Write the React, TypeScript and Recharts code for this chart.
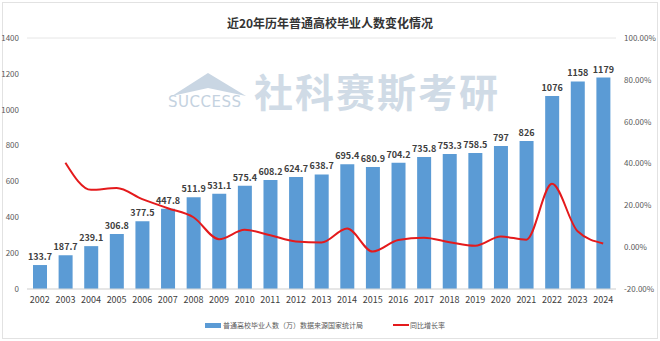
import React from 'react';
import {
  ComposedChart,
  Bar,
  Line,
  XAxis,
  YAxis,
  CartesianGrid,
  LabelList,
} from 'recharts';

const years = ['2002', '2003', '2004', '2005', '2006', '2007', '2008', '2009', '2010', '2011', '2012', '2013', '2014', '2015', '2016', '2017', '2018', '2019', '2020', '2021', '2022', '2023', '2024'];
const graduates = [133.7, 187.7, 239.1, 306.8, 377.5, 447.8, 511.9, 531.1, 575.4, 608.2, 624.7, 638.7, 695.4, 680.9, 704.2, 735.8, 753.3, 758.5, 797, 826, 1076, 1158, 1179];
const growth = [null, 40.4, 27.4, 28.3, 23.0, 18.6, 14.3, 3.8, 8.3, 5.7, 2.7, 2.2, 8.9, -2.1, 3.4, 4.5, 2.4, 0.7, 5.1, 3.6, 30.3, 7.6, 1.8];

const leftTicks = [0, 200, 400, 600, 800, 1000, 1200, 1400];
const rightTicks = [-20, 0, 20, 40, 60, 80, 100];

const BAR_NAME = '普通高校毕业人数（万）数据来源国家统计局';
const LINE_NAME = '同比增长率';

const data = years.map((y, i) => ({ year: y, value: graduates[i], rate: growth[i] }));

const FONT = '"Noto Sans CJK SC", "Noto Sans", sans-serif';

export default function App() {
  return (
    <div style={{ position: 'absolute', left: 0, top: 0, width: 660, height: 341, background: '#fff', fontFamily: FONT }}>
      <div style={{ position: 'absolute', left: 2, top: 2, width: 654, height: 335, border: '1px solid #e2e2e2' }}></div>
      <div style={{ position: 'absolute', top: 14, width: 660, textAlign: 'center', fontSize: 12, fontWeight: 'bold', color: '#333' }}>
        近20年历年普通高校毕业人数变化情况
      </div>

      {/* watermark */}
      <div style={{ position: 'absolute', left: 168, top: 70, width: 82, height: 40 }}>
        <svg width="82" height="26" style={{ position: 'absolute', left: 0, top: 0 }}>
          <polygon points="4,26 40,3 78,26 40,18" fill="#c9d6e3" />
        </svg>
        <div style={{ position: 'absolute', left: 0, top: 23, fontSize: 15, color: '#c4d2e0', letterSpacing: 0.5, fontFamily: '"DejaVu Sans", sans-serif' }}>SUCCESS</div>
      </div>
      <div style={{ position: 'absolute', left: 254, top: 66, fontSize: 39, fontWeight: 'bold', color: '#d0dbe6', letterSpacing: 2, fontFamily: FONT, lineHeight: '48px' }}>
        社科赛斯考研
      </div>

      {/* legend */}
      <div style={{ position: 'absolute', left: 205, top: 319, height: 12, display: 'flex', alignItems: 'center', fontSize: 7, lineHeight: '12px', color: '#595959' }}>
        <span style={{ display: 'inline-block', width: 16, height: 5, background: '#5B9BD5', marginRight: 2 }}></span>
        <span style={{ width: 150, whiteSpace: 'nowrap' }}>{BAR_NAME}</span>
        <span style={{ display: 'inline-block', width: 16, height: 2, background: '#E41A1C', marginLeft: 20, marginRight: 1 }}></span>
        <span style={{ whiteSpace: 'nowrap' }}>{LINE_NAME}</span>
      </div>

      <ComposedChart width={660} height={341} data={data} margin={{ top: 38, right: 0, bottom: 30, left: 0 }} style={{ position: 'absolute', left: 0, top: 0 }}>
        <CartesianGrid vertical={false} stroke="#e6e6e6" />
        <XAxis dataKey="year" tick={{ fontSize: 9, fill: '#404040' }} tickLine={false} axisLine={{ stroke: '#d9d9d9' }} height={22} interval={0} />
        <YAxis yAxisId="left" domain={[0, 1400]} ticks={leftTicks} width={27} tick={{ fontSize: 8, fill: '#595959' }} axisLine={false} tickLine={false} />
        <YAxis yAxisId="right" orientation="right" domain={[-20, 100]} ticks={rightTicks} width={44} tick={{ fontSize: 8, fill: '#595959' }} tickFormatter={(v) => `${v.toFixed(2)}%`} axisLine={false} tickLine={false} />
        <Bar yAxisId="left" dataKey="value" name={BAR_NAME} fill="#5B9BD5" barSize={14} isAnimationActive={false}>
          <LabelList dataKey="value" position="top" style={{ fontSize: 9, fontWeight: 'bold', fill: '#404040' }} />
        </Bar>
        <Line yAxisId="right" type="monotone" dataKey="rate" name={LINE_NAME} stroke="#E41A1C" strokeWidth={2} dot={false} isAnimationActive={false} />
      </ComposedChart>
    </div>
  );
}
